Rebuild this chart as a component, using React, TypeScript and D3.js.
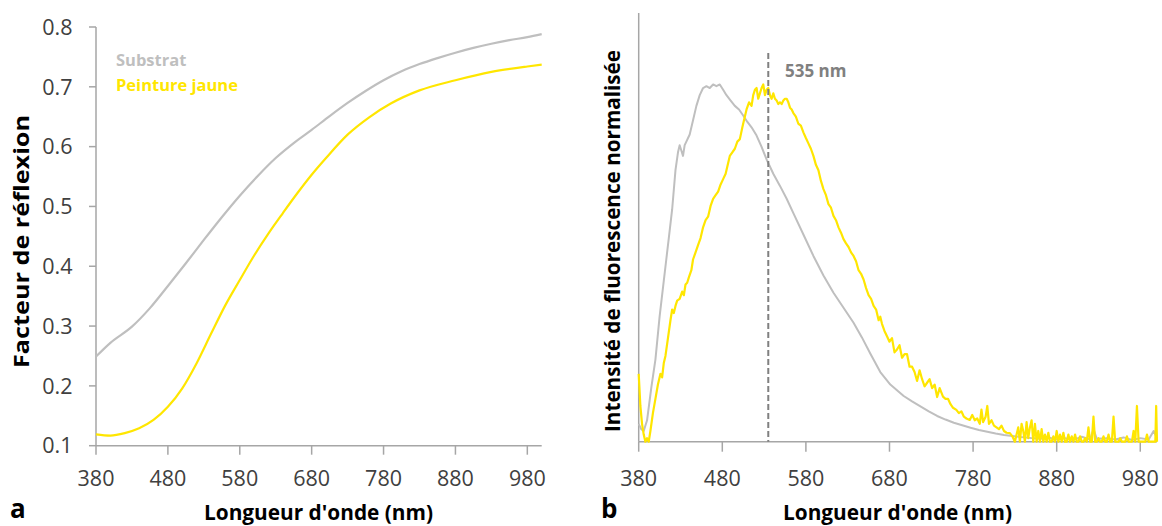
import React from "react";
import * as d3 from "d3";

// ---------- data ----------
const xTickValues = [380, 480, 580, 680, 780, 880, 980];
const yTickValuesA = [0.1, 0.2, 0.3, 0.4, 0.5, 0.6, 0.7, 0.8];

// Panel a : reflectance
const reflWl = [380, 400, 430, 455, 480, 505, 530, 555, 580, 605, 630, 655, 680, 705, 730, 755, 780, 805, 830, 855, 880, 905, 930, 955, 980, 1000];
const reflSubstrat = [0.249, 0.272, 0.299, 0.33, 0.367, 0.405, 0.444, 0.482, 0.518, 0.551, 0.581, 0.606, 0.628, 0.651, 0.673, 0.693, 0.711, 0.726, 0.738, 0.748, 0.757, 0.765, 0.772, 0.778, 0.783, 0.788];
const reflJauneWl = [380, 400, 420, 440, 460, 480, 500, 520, 540, 560, 580, 600, 620, 640, 660, 680, 700, 730, 760, 790, 830, 880, 930, 980, 1000];
const reflJaune = [0.119, 0.117, 0.121, 0.129, 0.143, 0.165, 0.196, 0.238, 0.287, 0.335, 0.377, 0.418, 0.455, 0.489, 0.522, 0.553, 0.581, 0.62, 0.649, 0.672, 0.694, 0.711, 0.725, 0.734, 0.737];

// Panel b : normalised fluorescence
const fluoSubWl = [380, 383, 386, 390, 395, 400, 405, 410, 413, 416, 420, 424, 427, 429, 431, 433, 435, 437, 441, 445, 449, 453, 457, 461, 465, 469, 473, 477, 481, 485, 490, 495, 500, 505, 510, 515, 521, 527, 533, 541, 549, 557, 565, 577, 589, 601, 613, 625, 637, 647, 657, 669, 681, 690, 697, 707, 717, 727, 737, 747, 757, 767, 777, 787, 797, 807, 817, 827, 837, 850, 860, 870, 880, 890, 900, 910, 920, 924, 928, 940, 950, 960, 970, 980, 990, 996, 1000];
const fluoSub = [0.05, 0.035, 0.03, 0.06, 0.15, 0.23, 0.35, 0.45, 0.51, 0.57, 0.65, 0.76, 0.81, 0.83, 0.815, 0.8, 0.83, 0.84, 0.86, 0.9, 0.94, 0.97, 0.99, 0.995, 0.99, 1.0, 0.995, 1.0, 0.985, 0.97, 0.955, 0.94, 0.93, 0.913, 0.895, 0.88, 0.857, 0.825, 0.79, 0.75, 0.716, 0.68, 0.64, 0.58, 0.52, 0.465, 0.417, 0.375, 0.333, 0.292, 0.247, 0.195, 0.16, 0.142, 0.128, 0.113, 0.099, 0.085, 0.072, 0.062, 0.053, 0.046, 0.039, 0.033, 0.028, 0.023, 0.019, 0.016, 0.013, 0.01, 0.008, 0.012, 0.006, 0.01, 0.005, 0.014, 0.006, 0.035, 0.008, 0.01, 0.006, 0.012, 0.005, 0.01, 0.006, 0.03, 0.01];

const fluoJauneWl = [380, 382, 384, 386, 388, 390, 392, 394, 397, 400, 403, 406, 408, 410, 412, 415, 418, 420, 422, 424, 426, 429, 432, 434, 436, 438, 440, 443, 445, 448, 451, 454, 457, 460, 463, 466, 469, 472, 475, 478, 481, 484, 487, 489, 492, 495, 498, 501, 504, 507, 509, 512, 515, 517, 519, 521, 523, 525, 527, 529, 531, 533, 535, 537, 539, 541, 543, 545, 547, 549, 551, 553, 555, 557, 559, 561, 563, 565, 568, 571, 574, 577, 580, 583, 586, 589, 592, 595, 598, 601, 604, 607, 610, 613, 616, 619, 622, 625, 628, 631, 634, 637, 640, 643, 646, 649, 652, 655, 658, 661, 664, 667, 669, 671, 674, 677, 680, 683, 686, 689, 692, 695, 698, 701, 704, 707, 710, 713, 716, 719, 722, 725, 728, 731, 734, 737, 740, 744, 747, 750, 753, 756, 760, 763, 766, 769, 772, 776, 779, 782, 785, 788, 790, 792, 795, 797, 799, 802, 805, 808, 811, 814, 817, 820, 824, 827, 830, 832, 834, 836, 838, 840, 842, 844, 846, 848, 850, 852, 854, 856, 858, 860, 862, 864, 866, 868, 870, 872, 874, 876, 878, 880, 882, 884, 886, 888, 890, 892, 894, 896, 898, 900, 902, 904, 906, 908, 910, 912, 914, 916, 918, 920, 922, 924, 926, 928, 930, 932, 934, 936, 938, 940, 942, 944, 946, 948, 950, 952, 954, 956, 958, 960, 962, 964, 966, 968, 970, 972, 974, 976, 978, 980, 982, 984, 986, 988, 990, 992, 994, 996, 998, 999, 1000];
const fluoJaune = [0.19, 0.1, 0.05, 0.02, 0.0, 0.01, 0.0, 0.03, 0.08, 0.12, 0.16, 0.19, 0.18, 0.22, 0.24, 0.29, 0.34, 0.37, 0.36, 0.38, 0.395, 0.4, 0.42, 0.41, 0.44, 0.445, 0.46, 0.48, 0.51, 0.53, 0.55, 0.57, 0.6, 0.62, 0.63, 0.66, 0.68, 0.69, 0.7, 0.72, 0.735, 0.75, 0.78, 0.8, 0.81, 0.82, 0.84, 0.847, 0.88, 0.91, 0.93, 0.95, 0.94, 0.97, 0.985, 0.99, 0.96, 0.975, 0.99, 1.0, 0.97, 0.985, 0.99, 0.97, 0.96, 0.975, 0.96, 0.955, 0.945, 0.95, 0.945, 0.955, 0.96, 0.96, 0.95, 0.935, 0.93, 0.92, 0.91, 0.89, 0.885, 0.866, 0.85, 0.835, 0.82, 0.8, 0.775, 0.76, 0.73, 0.707, 0.69, 0.665, 0.655, 0.632, 0.62, 0.6, 0.585, 0.567, 0.555, 0.545, 0.53, 0.52, 0.505, 0.48, 0.47, 0.454, 0.43, 0.41, 0.4, 0.38, 0.37, 0.34, 0.35, 0.33, 0.31, 0.295, 0.28, 0.29, 0.25, 0.258, 0.27, 0.235, 0.245, 0.245, 0.21, 0.21, 0.195, 0.17, 0.2, 0.175, 0.155, 0.165, 0.175, 0.15, 0.16, 0.125, 0.15, 0.126, 0.12, 0.12, 0.105, 0.095, 0.089, 0.08, 0.085, 0.07, 0.065, 0.061, 0.075, 0.06, 0.065, 0.05, 0.09, 0.055, 0.07, 0.1, 0.05, 0.06, 0.045, 0.04, 0.035, 0.045, 0.03, 0.025, 0.024, 0.015, 0.0, 0.02, 0.04, 0.0, 0.05, 0.03, 0.0, 0.055, 0.01, 0.04, 0.06, 0.0, 0.05, 0.0, 0.03, 0.0, 0.035, 0.0, 0.02, 0.0, 0.025, 0.0, 0.0, 0.015, 0.0, 0.03, 0.0, 0.02, 0.0, 0.025, 0.0, 0.0, 0.02, 0.0, 0.015, 0.0, 0.02, 0.0, 0.0, 0.015, 0.0, 0.0, 0.01, 0.0, 0.04, 0.0, 0.0, 0.07, 0.0, 0.0, 0.01, 0.0, 0.0, 0.015, 0.0, 0.0, 0.02, 0.0, 0.0, 0.07, 0.0, 0.0, 0.0, 0.01, 0.0, 0.0, 0.0, 0.015, 0.0, 0.0, 0.0, 0.03, 0.0, 0.1, 0.0, 0.0, 0.0, 0.0, 0.0, 0.02, 0.0, 0.0, 0.0, 0.0, 0.0, 0.1, 0.0];

const peakWl = 535;

// ---------- styles ----------
const GRAY = "#bfbfbf";
const YELLOW = "#ffe600";
const AXIS = "#a6a6a6";
const FONT = "'Open Sans', sans-serif";

type Pt = [number, number];
const zip = (xs: number[], ys: number[]): Pt[] => xs.map((x, i) => [x, ys[i]] as Pt);

export default function App() {
  // Panel a scales
  const xa = d3.scaleLinear().domain([380, 1000]).range([96, 541.7]);
  const ya = d3.scaleLinear().domain([0.1, 0.8]).range([445.7, 27]);
  // Panel b scales
  const xb = d3.scaleLinear().domain([380, 1000]).range([638.7, 1157]);
  const yb = d3.scaleLinear().domain([0, 1.2]).range([441.7, 13]);

  const lineA = d3
    .line<Pt>()
    .x((d) => xa(d[0]))
    .y((d) => ya(d[1]))
    .curve(d3.curveMonotoneX);
  const lineB = d3
    .line<Pt>()
    .x((d) => xb(d[0]))
    .y((d) => yb(d[1]));

  return (
    <svg
      width={1162}
      height={526}
      style={{ position: "absolute", left: 0, top: 0, background: "#fff" }}
      fontFamily={FONT}
    >
      {/* ---------- Panel a ---------- */}
      <g>
        <line x1={xa(380)} x2={xa(380)} y1={ya(0.8)} y2={ya(0.1)} stroke={AXIS} strokeWidth={1.5} />
        <line x1={xa(380)} x2={xa(1000)} y1={ya(0.1)} y2={ya(0.1)} stroke={AXIS} strokeWidth={1.5} />
        {yTickValuesA.map((t) => (
          <g key={"ya" + t}>
            <line x1={xa(380) - 7} x2={xa(380)} y1={ya(t)} y2={ya(t)} stroke={AXIS} strokeWidth={1.5} />
            <text x={72.5} y={ya(t) + 7.7} textAnchor="end" fontSize={21.5} fill="#404040">
              {t.toFixed(1)}
            </text>
          </g>
        ))}
        {xTickValues.map((t) => (
          <g key={"xa" + t}>
            <line x1={xa(t)} x2={xa(t)} y1={ya(0.1)} y2={ya(0.1) + 9} stroke={AXIS} strokeWidth={1.5} />
            <text x={xa(t)} y={486} textAnchor="middle" fontSize={21.5} fill="#404040">
              {t}
            </text>
          </g>
        ))}
        <path d={lineA(zip(reflWl, reflSubstrat)) || ""} fill="none" stroke={GRAY} strokeWidth={2.2} />
        <path d={lineA(zip(reflJauneWl, reflJaune)) || ""} fill="none" stroke={YELLOW} strokeWidth={2.2} />
        {/* legend */}
        <text x={116} y={66} fontSize={16.5} fontWeight={700} fill={GRAY}>
          Substrat
        </text>
        <text x={116} y={91} fontSize={16.5} fontWeight={700} fill={YELLOW}>
          Peinture jaune
        </text>
        {/* titles */}
        <text
          transform="translate(28.5, 241.5) rotate(-90)"
          textAnchor="middle"
          fontSize={21}
          fontWeight={700}
          fill="#000"
          textLength={253}
          lengthAdjust="spacingAndGlyphs"
        >
          Facteur de réflexion
        </text>
        <text
          x={318.5}
          y={520}
          textAnchor="middle"
          fontSize={21}
          fontWeight={700}
          fill="#000"
          textLength={229}
          lengthAdjust="spacingAndGlyphs"
        >
          Longueur d'onde (nm)
        </text>
        <text x={10} y={518} fontSize={26} fontWeight={700} fill="#000">
          a
        </text>
      </g>

      {/* ---------- Panel b ---------- */}
      <g>
        <line x1={xb(380)} x2={xb(380)} y1={yb(1.2)} y2={yb(0)} stroke={AXIS} strokeWidth={1.5} />
        <line x1={xb(380)} x2={xb(1000)} y1={yb(0)} y2={yb(0)} stroke={AXIS} strokeWidth={1.5} />
        {xTickValues.map((t) => (
          <g key={"xb" + t}>
            <line x1={xb(t)} x2={xb(t)} y1={yb(0)} y2={yb(0) + 10} stroke={AXIS} strokeWidth={1.5} />
            <text x={xb(t)} y={486} textAnchor="middle" fontSize={21.5} fill="#404040">
              {t}
            </text>
          </g>
        ))}
        <path d={lineB(zip(fluoSubWl, fluoSub)) || ""} fill="none" stroke={GRAY} strokeWidth={2} strokeLinejoin="round" />
        <path d={lineB(zip(fluoJauneWl, fluoJaune)) || ""} fill="none" stroke={YELLOW} strokeWidth={2.2} strokeLinejoin="round" />
        {/* peak marker */}
        <line
          x1={xb(peakWl)}
          x2={xb(peakWl)}
          y1={53}
          y2={yb(0)}
          stroke="#808080"
          strokeWidth={2}
          strokeDasharray="6,3"
        />
        <text x={785} y={77} fontSize={17} fontWeight={700} fill="#808080">
          {peakWl} nm
        </text>
        <text
          transform="translate(620, 241) rotate(-90)"
          textAnchor="middle"
          fontSize={21}
          fontWeight={700}
          fill="#000"
          textLength={382}
          lengthAdjust="spacingAndGlyphs"
        >
          Intensité de fluorescence normalisée
        </text>
        <text
          x={897.5}
          y={520}
          textAnchor="middle"
          fontSize={21}
          fontWeight={700}
          fill="#000"
          textLength={229}
          lengthAdjust="spacingAndGlyphs"
        >
          Longueur d'onde (nm)
        </text>
        <text x={601} y={518} fontSize={26} fontWeight={700} fill="#000">
          b
        </text>
      </g>
    </svg>
  );
}
